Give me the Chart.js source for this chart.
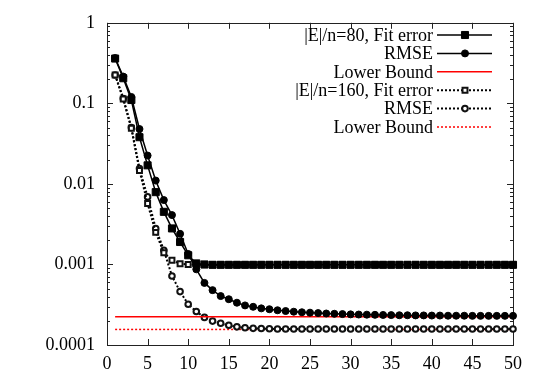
<!DOCTYPE html>
<html>
<head>
<meta charset="utf-8">
<script src="https://cdn.jsdelivr.net/npm/chart.js@4.4.1/dist/chart.umd.min.js"></script>
<style>
  html, body { margin: 0; padding: 0; background: #fff; }
  canvas { display: block; }
</style>
</head>
<body>
<canvas id="fit-chart" width="545" height="382"></canvas>
<script>
/* ── Data ─────────────────────────────────────────────── */
const iterations = [
  1, 2, 3, 4, 5, 6, 7, 8, 9, 10, 11, 12, 13, 14, 15, 16, 17, 18, 19, 20, 21, 22, 23, 24, 25,
  26, 27, 28, 29, 30, 31, 32, 33, 34, 35, 36, 37, 38, 39, 40, 41, 42, 43, 44, 45, 46, 47, 48, 49, 50,
];

const fit80 = [
  0.36, 0.205, 0.11, 0.038, 0.017, 0.0079, 0.0045, 0.0028, 0.0019, 0.0013,
  0.00103, 0.001, 0.00099, 0.00099, 0.00099, 0.00099, 0.00099, 0.00099, 0.00099, 0.00099,
  0.00099, 0.00099, 0.00099, 0.00099, 0.00099, 0.00099, 0.00099, 0.00099, 0.00099, 0.00099,
  0.00099, 0.00099, 0.00099, 0.00099, 0.00099, 0.00099, 0.00099, 0.00099, 0.00099, 0.00099,
  0.00099, 0.00099, 0.00099, 0.00099, 0.00099, 0.00099, 0.00099, 0.00099, 0.00099, 0.00099,
];

const rmse80 = [
  0.365, 0.215, 0.12, 0.048, 0.0225, 0.011, 0.0063, 0.0041, 0.0024, 0.00135,
  0.00087, 0.00059, 0.00048, 0.000405, 0.00037, 0.000335, 0.00031, 0.000298, 0.000285, 0.000278,
  0.00027, 0.000264, 0.000259, 0.000255, 0.000252, 0.000249, 0.000246, 0.000244, 0.000242, 0.00024,
  0.000239, 0.000238, 0.000237, 0.000236, 0.000235, 0.000234, 0.000234, 0.000233, 0.000233, 0.000232,
  0.000232, 0.000231, 0.000231, 0.000231, 0.00023, 0.00023, 0.00023, 0.00023, 0.00023, 0.00023,
];

const fit160 = [
  0.225, 0.113, 0.049, 0.0147, 0.0057, 0.0025, 0.0014, 0.00113, 0.00102, 0.001,
  0.00099, 0.00099, 0.00099, 0.00099, 0.00099, 0.00099, 0.00099, 0.00099, 0.00099, 0.00099,
  0.00099, 0.00099, 0.00099, 0.00099, 0.00099, 0.00099, 0.00099, 0.00099, 0.00099, 0.00099,
  0.00099, 0.00099, 0.00099, 0.00099, 0.00099, 0.00099, 0.00099, 0.00099, 0.00099, 0.00099,
  0.00099, 0.00099, 0.00099, 0.00099, 0.00099, 0.00099, 0.00099, 0.00099, 0.00099, 0.00099,
];

const rmse160 = [
  0.225, 0.115, 0.05, 0.0155, 0.0069, 0.0028, 0.0015, 0.00072, 0.00046, 0.00032,
  0.00026, 0.00022, 0.000198, 0.000186, 0.000176, 0.000168, 0.000164, 0.000161, 0.00016, 0.000159,
  0.000158, 0.000158, 0.000158, 0.000158, 0.000158, 0.000158, 0.000158, 0.000158, 0.000158, 0.000158,
  0.000158, 0.000158, 0.000158, 0.000158, 0.000158, 0.000158, 0.000158, 0.000158, 0.000158, 0.000158,
  0.000158, 0.000158, 0.000158, 0.000158, 0.000158, 0.000158, 0.000158, 0.000158, 0.000158, 0.000158,
];

const boundX   = [1, 50];
const bound80  = [0.000225, 0.000225];
const bound160 = [0.000156, 0.000156];

const xTicks = [0, 5, 10, 15, 20, 25, 30, 35, 40, 45, 50];
const yTicks = [0.0001, 0.001, 0.01, 0.1, 1];
const yTickLabels = ['0.0001', '0.001', '0.01', '0.1', '1'];

const FONT = "'Liberation Serif', 'DejaVu Serif', serif";
const FONT_SIZE = 18;

const pts = (xs, ys) => xs.map((x, i) => ({ x, y: ys[i] }));

/* ── Inward ticks + frame (gnuplot look) ──────────────── */
const framePlugin = {
  id: 'frame',
  beforeDatasetsDraw(chart) {
    const { ctx, chartArea: a, scales } = chart;
    const xs = scales.x, ys = scales.y;
    ctx.save();
    ctx.strokeStyle = '#222';
    ctx.lineWidth = 1;
    ctx.beginPath();
    xTicks.forEach(v => {
      const px = Math.round(xs.getPixelForValue(v)) + 0.5;
      ctx.moveTo(px, a.bottom); ctx.lineTo(px, a.bottom - 6);
      ctx.moveTo(px, a.top);    ctx.lineTo(px, a.top + 6);
    });
    for (let d = 0; d < yTicks.length; d++) {
      const base = yTicks[d];
      const py = Math.round(ys.getPixelForValue(base)) + 0.5;
      ctx.moveTo(a.left, py);  ctx.lineTo(a.left + 6, py);
      ctx.moveTo(a.right, py); ctx.lineTo(a.right - 6, py);
      if (d === yTicks.length - 1) break;
      for (let m = 2; m <= 9; m++) {
        const my = Math.round(ys.getPixelForValue(base * m)) + 0.5;
        ctx.moveTo(a.left, my);  ctx.lineTo(a.left + 3, my);
        ctx.moveTo(a.right, my); ctx.lineTo(a.right - 3, my);
      }
    }
    ctx.stroke();
    ctx.strokeRect(Math.round(a.left) + 0.5, Math.round(a.top) + 0.5,
      Math.round(a.right - a.left), Math.round(a.bottom - a.top));
    ctx.restore();
  },
};

/* ── Legend: right aligned text, sample on the right ──── */
const keyPlugin = {
  id: 'key',
  afterDraw(chart) {
    const { ctx } = chart;
    const textRight = 433, x0 = 437, x1 = 492, xm = 465;
    ctx.save();
    ctx.font = `${FONT_SIZE}px ${FONT}`;
    ctx.textAlign = 'right';
    ctx.textBaseline = 'middle';
    chart.data.datasets.forEach((ds, i) => {
      const y = 35 + i * 18.4;
      ctx.fillStyle = '#000';
      ctx.fillText(ds.label, textRight, y + 1);
      ctx.strokeStyle = ds.borderColor;
      ctx.lineWidth = ds.borderWidth;
      ctx.setLineDash(ds.borderDash || []);
      ctx.beginPath();
      ctx.moveTo(x0, y); ctx.lineTo(x1, y);
      ctx.stroke();
      ctx.setLineDash([]);
      if (ds.pointRadius > 0) {
        ctx.fillStyle = ds.pointBackgroundColor;
        ctx.strokeStyle = ds.pointBorderColor;
        ctx.lineWidth = ds.pointBorderWidth;
        ctx.beginPath();
        if (ds.pointStyle === 'rect') {
          const s = ds.pointRadius * Math.SQRT1_2;
          ctx.rect(xm - s, y - s, 2 * s, 2 * s);
        } else {
          ctx.arc(xm, y, ds.pointRadius, 0, Math.PI * 2);
        }
        ctx.fill();
        ctx.stroke();
      }
    });
    ctx.restore();
  },
};

/* ── Chart ────────────────────────────────────────────── */
const common = { tension: 0, clip: false, fill: false, pointHoverRadius: 0 };

new Chart(document.getElementById('fit-chart'), {
  type: 'line',
  data: {
    datasets: [
      {
        ...common,
        label: '|E|/n=80, Fit error',
        data: pts(iterations, fit80),
        borderColor: '#000',
        borderWidth: 1.5,
        pointStyle: 'rect',
        pointRadius: 5,
        pointBackgroundColor: '#000',
        pointBorderColor: '#000',
        pointBorderWidth: 1,
      },
      {
        ...common,
        label: 'RMSE',
        data: pts(iterations, rmse80),
        borderColor: '#000',
        borderWidth: 1.5,
        pointStyle: 'circle',
        pointRadius: 3.5,
        pointBackgroundColor: '#000',
        pointBorderColor: '#000',
        pointBorderWidth: 1,
      },
      {
        ...common,
        label: 'Lower Bound',
        data: pts(boundX, bound80),
        borderColor: '#ff0000',
        borderWidth: 1.5,
        pointRadius: 0,
      },
      {
        ...common,
        label: '|E|/n=160, Fit error',
        data: pts(iterations, fit160),
        borderColor: '#000',
        borderWidth: 2,
        borderDash: [2, 2],
        pointStyle: 'rect',
        pointRadius: 3.5,
        pointBackgroundColor: '#fff',
        pointBorderColor: '#111',
        pointBorderWidth: 2,
      },
      {
        ...common,
        label: 'RMSE',
        data: pts(iterations, rmse160),
        borderColor: '#000',
        borderWidth: 2,
        borderDash: [2, 2],
        pointStyle: 'circle',
        pointRadius: 2.8,
        pointBackgroundColor: '#fff',
        pointBorderColor: '#111',
        pointBorderWidth: 2,
      },
      {
        ...common,
        label: 'Lower Bound',
        data: pts(boundX, bound160),
        borderColor: '#ff0000',
        borderWidth: 1.5,
        borderDash: [2, 2],
        pointRadius: 0,
      },
    ],
  },
  options: {
    responsive: false,
    animation: false,
    devicePixelRatio: 1,
    layout: { padding: { top: 22, right: 32, left: 0, bottom: 0 } },
    plugins: {
      legend: { display: false },
      tooltip: { enabled: false },
    },
    scales: {
      x: {
        type: 'linear',
        min: 0,
        max: 50,
        grid: { display: false, drawTicks: false },
        border: { display: false },
        afterBuildTicks(scale) { scale.ticks = xTicks.map(v => ({ value: v })); },
        afterFit(scale) { scale.height = 37; },
        ticks: {
          padding: 8,
          color: '#000',
          maxRotation: 0,
          autoSkip: false,
          font: { family: FONT, size: FONT_SIZE },
        },
      },
      y: {
        type: 'logarithmic',
        min: 0.0001,
        max: 1,
        grid: { display: false, drawTicks: false },
        border: { display: false },
        afterBuildTicks(scale) { scale.ticks = yTicks.map(v => ({ value: v })); },
        afterFit(scale) { scale.width = 107; },
        ticks: {
          padding: 12,
          color: '#000',
          autoSkip: false,
          font: { family: FONT, size: FONT_SIZE },
          callback(val) {
            const i = yTicks.findIndex(t => Math.abs(t - val) / t < 1e-6);
            return i >= 0 ? yTickLabels[i] : '';
          },
        },
      },
    },
  },
  plugins: [framePlugin, keyPlugin],
});
</script>
</body>
</html>
